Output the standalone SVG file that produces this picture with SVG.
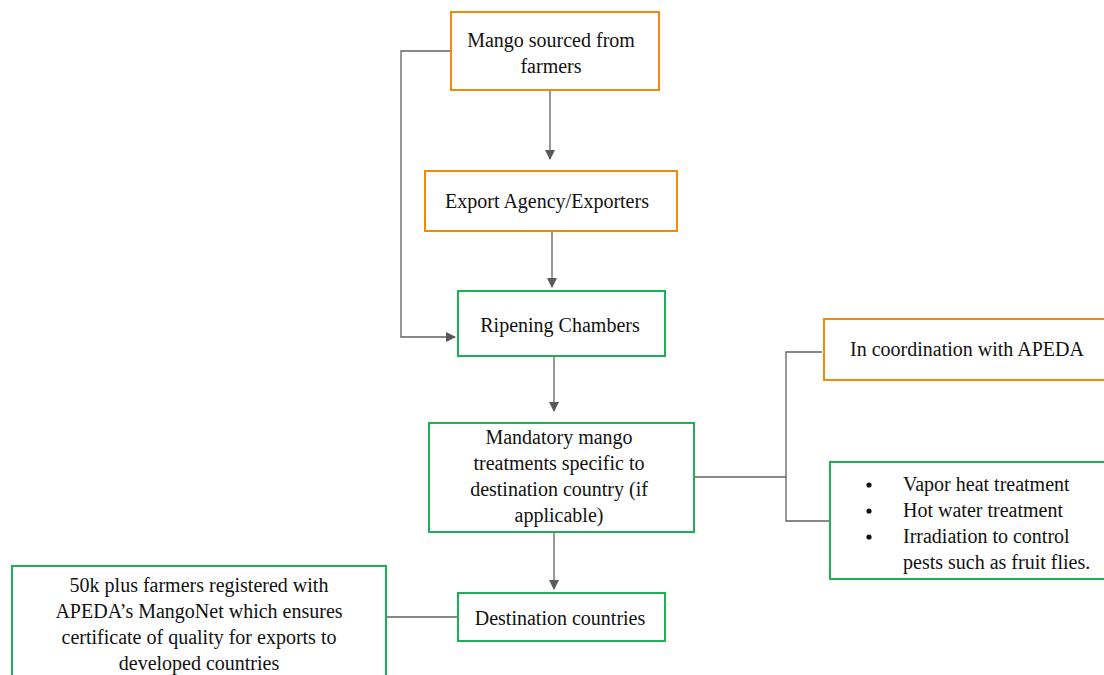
<svg xmlns="http://www.w3.org/2000/svg" width="1104" height="675" viewBox="0 0 1104 675">
<defs>
<style>
.o{fill:#fff;stroke:#EE8A0C;stroke-width:2}
.g{fill:#fff;stroke:#1BB152;stroke-width:2}
text{font-family:'Liberation Serif','Times New Roman',Times,serif;font-size:20px;fill:#111}
.t{text-anchor:middle}
.c{fill:none;stroke:#606060;stroke-width:1.3}
</style>
<marker id="ah" markerWidth="10" markerHeight="10" refX="9" refY="5" orient="auto" markerUnits="userSpaceOnUse">
<path d="M0,0 L10,5 L0,10 z" fill="#595959"/>
</marker>
</defs>
<rect width="1104" height="675" fill="#fff"/>
<g id="connectors">
<line class="c" x1="550" y1="90" x2="550" y2="159" marker-end="url(#ah)"/>
<line class="c" x1="552" y1="231" x2="552" y2="287" marker-end="url(#ah)"/>
<line class="c" x1="554" y1="356" x2="554" y2="411" marker-end="url(#ah)"/>
<line class="c" x1="554" y1="532" x2="554" y2="589" marker-end="url(#ah)"/>
<polyline class="c" points="451,51 401,51 401,337 455,337" marker-end="url(#ah)"/>
<polyline class="c" points="694,477 786,477"/>
<polyline class="c" points="822,352 786,352 786,521 830,521"/>
<line class="c" x1="386" y1="617" x2="458" y2="617"/>
</g>
<g id="n1"><rect class="o" x="451" y="12" width="208" height="78"/>
<text class="t" x="551" y="47">Mango sourced from</text><text class="t" x="551" y="73">farmers</text></g>
<g id="n2"><rect class="o" x="425" y="171" width="252" height="60"/>
<text class="t" x="547" y="208">Export Agency/Exporters</text></g>
<g id="n3"><rect class="g" x="458" y="291" width="207" height="65"/>
<text class="t" x="560" y="332">Ripening Chambers</text></g>
<g id="n4"><rect class="g" x="429" y="423" width="265" height="109"/>
<text class="t" x="559" y="444">Mandatory mango</text>
<text class="t" x="559" y="470">treatments specific to</text>
<text class="t" x="559" y="496">destination country (if</text>
<text class="t" x="559" y="522">applicable)</text></g>
<g id="n5"><rect class="g" x="458" y="593" width="207" height="48"/>
<text class="t" x="560" y="625">Destination countries</text></g>
<g id="n6"><rect class="o" x="824" y="319" width="290" height="61"/>
<text class="t" x="967" y="356">In coordination with APEDA</text></g>
<g id="n7"><rect class="g" x="830" y="462" width="284" height="117"/>
<circle cx="869" cy="485" r="2.6" fill="#111"/><text x="903" y="491">Vapor heat treatment</text>
<circle cx="869" cy="511" r="2.6" fill="#111"/><text x="903" y="517">Hot water treatment</text>
<circle cx="869" cy="537" r="2.6" fill="#111"/><text x="903" y="543">Irradiation to control</text>
<text x="903" y="569">pests such as fruit flies.</text></g>
<g id="n8"><rect class="g" x="12" y="566" width="374" height="120"/>
<text class="t" x="199" y="592">50k plus farmers registered with</text>
<text class="t" x="199" y="618">APEDA’s MangoNet which ensures</text>
<text class="t" x="199" y="644">certificate of quality for exports to</text>
<text class="t" x="199" y="670">developed countries</text></g>
</svg>
